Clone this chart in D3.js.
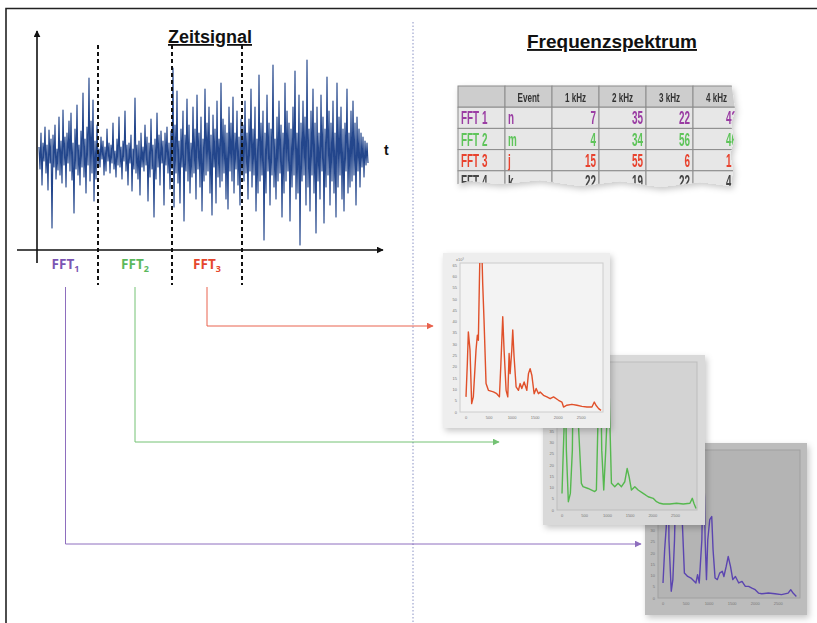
<!DOCTYPE html>
<html>
<head>
<meta charset="utf-8">
<script src="https://cdn.jsdelivr.net/npm/d3@7"></script>
<style>
body{margin:0;background:#fff}
svg{display:block}
</style>
</head>
<body>
<svg id="chart" width="817" height="623"></svg>
<script>
// time signal samples (hand read, rough)
var signal = [
8,-14,22,-30,12,-6,28,-18,10,-35,25,-8,16,-73,20,-12,30,-24,6,-15,
38,-20,14,-28,45,-10,18,-32,22,-8,34,-16,42,-25,12,-58,26,-14,50,-20,
10,-30,24,-12,62,-22,16,-38,28,-10,77,-26,34,-18,55,-46,14,-24,30,-10,
6,-12,18,-4,14,-20,8,-16,26,-6,12,-18,10,-8,32,-14,4,-22,16,-10,
38,-12,8,-24,14,-6,44,-16,10,-30,12,-8,20,-36,6,-14,57,-18,10,-24,
14,-40,22,-12,8,-16,30,-10,18,-46,12,-22,36,-14,10,-62,16,-24,42,-12,
20,-30,24,-8,14,-50,22,-10,28,-18,12,-34,24,-14,
87,-52,30,-18,64,-28,14,-48,26,-12,44,-66,20,-16,56,-26,30,-38,12,-22,
48,-18,26,-44,60,-14,22,-32,38,-56,16,-26,66,-20,32,-16,48,-38,20,-60,
40,-12,26,-48,54,-22,16,-32,72,-26,36,-18,30,-44,22,-54,48,-16,32,-26,
58,-38,22,-14,44,-30,18,-50,36,-20,
30,-26,54,-18,22,-44,36,-16,66,-32,26,-20,48,-56,16,-38,80,-26,32,-20,
44,-85,22,-38,60,-16,32,-50,26,-20,90,-32,16,-44,38,-26,54,-18,30,-62,
22,-38,72,-26,44,-16,32,-66,26,-32,48,-20,84,-44,22,-38,60,-90,32,-26,
54,-20,38,-50,95,-32,26,-56,44,-20,66,-38,32,-78,48,-26,22,-44,60,-16,
38,-68,26,-32,78,-20,44,-50,32,-26,54,-38,22,-62,72,-32,38,-20,48,-44,
26,-56,32,-16,66,-38,22,-32,44,-26,54,-20,32,-50,38,-16,26,-32,22,-12,
18,-22,14,-10,12,-8
];
// FFT windows, in sample index
var windowEdges = [59, 133, 203];
var fftNames = ["FFT", "FFT", "FFT"];
var fftSubs = ["1", "2", "3"];

// spectra [Hz, amplitude]
var spectrumRed = [[0,6.7],[29,21.5],[51,35.5],[87,27.4],[123,3.7],[159,6.7],[217,27.4],[246,34],[268,31.8],[290,57],[304,72],[341,74],[362,57],[391,40.7],[435,12.6],[486,9.6],[594,8.9],[667,8.1],[725,6.7],[754,20],[797,42.2],[826,27.4],[870,9.6],[906,6.7],[935,25.9],[957,17],[993,27.4],[1014,36.3],[1043,24.4],[1087,11.1],[1138,9.6],[1174,12.6],[1210,10.4],[1261,13.3],[1319,9.6],[1355,17],[1391,19.2],[1428,16.3],[1478,8.1],[1522,10.4],[1572,8.1],[1609,8.9],[1681,7.4],[1754,6.7],[1826,5.9],[1899,6.7],[2007,5.2],[2080,4.4],[2116,2.2],[2188,3],[2297,3.4],[2406,3],[2514,2.5],[2623,2.2],[2732,2.2],[2783,4.4],[2819,3],[2877,1.5],[2928,0.7]];
var spectrumGreen = [[0,7.4],[22,22.2],[44,35.6],[66,75],[96,26.7],[140,3.7],[184,7.4],[228,26.7],[257,75],[294,78],[353,41.5],[426,11.9],[463,10.4],[574,9.6],[721,8.2],[757,8.9],[794,41.5],[816,72],[846,70],[875,26.7],[919,8.9],[963,26.7],[993,41.5],[1022,70],[1051,41.5],[1088,11.9],[1162,10.4],[1235,11.9],[1309,10.4],[1382,12.6],[1434,18.5],[1478,14.8],[1529,8.9],[1603,10.4],[1676,8.9],[1787,7.4],[1897,5.9],[2007,5.2],[2081,3.7],[2154,3],[2228,2.7],[2375,2.7],[2522,3],[2669,2.7],[2816,3],[2868,5.2],[2904,3],[2950,0.7]];
var spectrumPurple = [[0,6.7],[36,21.5],[71,31.9],[93,72],[114,70],[129,26],[179,3],[214,8.2],[250,26],[286,60],[321,72],[371,72],[414,36.3],[464,11.1],[536,9.6],[607,8.9],[714,6.7],[750,10.4],[786,6.7],[843,26],[871,60],[900,45],[914,26],[943,8.2],[971,26],[1014,34.9],[1057,36.3],[1086,21.5],[1129,8.9],[1179,8.2],[1229,11.1],[1286,11.9],[1321,9.6],[1371,14.1],[1414,18.5],[1464,14.1],[1514,8.2],[1571,9.6],[1643,6.7],[1714,7.4],[1786,5.2],[1857,5.2],[1929,4.4],[2000,3.7],[2071,2.2],[2143,1.9],[2286,2.2],[2429,1.9],[2571,1.5],[2714,2.2],[2771,3.7],[2821,2.2],[2893,0.7]];
var freqTicks = [0, 500, 1000, 1500, 2000, 2500];
var ampTicks = [0, 5, 10, 15, 20, 25, 30, 35, 40, 45, 50, 55, 60, 65];

// table
var tableHeader = ["", "Event", "1 kHz", "2 kHz", "3 kHz", "4 kHz"];
var tableRows = [
    ["FFT 1", "n", 7, 35, 22, 42],
    ["FFT 2", "m", 4, 34, 56, 46],
    ["FFT 3", "j", 15, 55, 6, 17],
    ["FFT 4", "k", 22, 19, 22, 41]
];

var purple = "#7b55b3", green = "#5cb85c", red = "#e5472e";
var rowColors = ["#9a3da3", "#5ec45a", "#e8432e", "#444"];

var svg = d3.select("#chart");
var defs = svg.append("defs");

function arrowMarker(id, color){
    defs.append("marker")
        .attr("id", id)
        .attr("viewBox", "0 0 10 10")
        .attr("refX", 9).attr("refY", 5)
        .attr("markerWidth", 7).attr("markerHeight", 7)
        .attr("markerUnits", "userSpaceOnUse")
        .attr("orient", "auto")
        .append("path").attr("d", "M0,0L10,5L0,10z").attr("fill", color);
}
arrowMarker("arK", "#111");
arrowMarker("arP", purple);
arrowMarker("arG", green);
arrowMarker("arR", red);

var shadow = defs.append("filter").attr("id", "shadow")
    .attr("x", "-10%").attr("y", "-10%").attr("width", "130%").attr("height", "130%");
shadow.append("feDropShadow")
    .attr("dx", 2).attr("dy", 3).attr("stdDeviation", 3)
    .attr("flood-color", "#000").attr("flood-opacity", 0.22);

/*
    frame + separator
*/
svg.append("path").attr("d", "M6,623V8.5H817")
    .attr("fill", "none").attr("stroke", "#222").attr("stroke-width", 1.6);
svg.append("line")
    .attr("x1", 413).attr("x2", 413).attr("y1", 22).attr("y2", 623)
    .attr("stroke", "#8a92c4").attr("stroke-width", 1)
    .attr("stroke-dasharray", "1.5,2");

/*
    Zeitsignal
*/
function drawTimeSignal(){
    var x = d3.scaleLinear().domain([0, signal.length - 1]).range([39, 368]);
    var y = d3.scaleLinear().domain([-100, 100]).range([255, 55]);

    svg.append("text").text("Zeitsignal")
        .attr("x", 210).attr("y", 43)
        .attr("text-anchor", "middle")
        .attr("font-family", "Arial, 'Liberation Sans', sans-serif")
        .attr("font-weight", "bold").attr("font-size", 18)
        .attr("text-decoration", "underline")
        .attr("fill", "#111");

    svg.append("path")
        .datum(signal)
        .attr("d", d3.line().x(function(d, i){ return x(i); }).y(function(d){ return y(d); }))
        .attr("fill", "none")
        .attr("stroke", "#23468c")
        .attr("stroke-width", 1.15)
        .attr("stroke-linejoin", "round");

    // axes
    svg.append("line")
        .attr("x1", 37).attr("x2", 37).attr("y1", 263).attr("y2", 31)
        .attr("stroke", "#111").attr("stroke-width", 1.6)
        .attr("marker-end", "url(#arK)");
    svg.append("line")
        .attr("x1", 17).attr("x2", 383).attr("y1", 250).attr("y2", 250)
        .attr("stroke", "#111").attr("stroke-width", 1.6)
        .attr("marker-end", "url(#arK)");
    svg.append("text").text("t")
        .attr("x", 384).attr("y", 155)
        .attr("font-family", "Arial, sans-serif")
        .attr("font-weight", "bold").attr("font-size", 14)
        .attr("fill", "#111");

    svg.selectAll(".win").data(windowEdges).enter()
        .append("line")
        .attr("class", "win")
        .attr("x1", function(d){ return x(d); })
        .attr("x2", function(d){ return x(d); })
        .attr("y1", 45).attr("y2", 285)
        .attr("stroke", "#111").attr("stroke-width", 2)
        .attr("stroke-dasharray", "4,3");

    // FFT labels + connectors
    var starts = [x(0) - 6].concat(windowEdges.slice(0, 2).map(x));
    var colors = [purple, green, red];
    var markers = ["arP", "arG", "arR"];
    var targets = [[544, 641], [442, 499], [326, 433]];
    fftNames.forEach(function(name, i){
        var cx = (starts[i] + x(windowEdges[i])) / 2;
        var t = svg.append("text")
            .attr("x", cx).attr("y", 269)
            .attr("text-anchor", "middle")
            .attr("font-family", "'Open Sans', sans-serif")
            .attr("font-weight", "bold").attr("font-size", 13.5)
            .attr("fill", colors[i]);
        t.append("tspan").text(name);
        t.append("tspan").text(fftSubs[i]).attr("dy", 3).attr("font-size", 9);

        svg.append("path")
            .attr("d", "M" + cx + "," + 287 + "V" + targets[i][0] + "H" + targets[i][1])
            .attr("fill", "none")
            .attr("stroke", colors[i]).attr("stroke-width", 1)
            .attr("opacity", 0.85)
            .attr("marker-end", "url(#" + markers[i] + ")");
    });
}

/*
    Frequenzspektrum
*/
function drawTable(){
    svg.append("text").text("Frequenzspektrum")
        .attr("x", 612).attr("y", 48)
        .attr("text-anchor", "middle")
        .attr("font-family", "Arial, 'Liberation Sans', sans-serif")
        .attr("font-weight", "bold").attr("font-size", 19)
        .attr("text-decoration", "underline")
        .attr("fill", "#111");

    var col = d3.scaleBand().domain(d3.range(tableHeader.length)).range([458, 740]);
    var row = d3.scaleBand().domain(d3.range(tableRows.length + 1)).range([86, 192]);

    defs.append("clipPath").attr("id", "torn")
        .append("path")
        .attr("d", "M450,80H731L733,95L735,110L731,125L734,140L730,155L733,170L731,186" +
            "L700,182L660,187L620,181L580,186L540,180L500,184L470,181L450,186Z");

    var tg = svg.append("g").attr("filter", "url(#shadow)")
        .append("g").attr("clip-path", "url(#torn)");

    var all = [tableHeader].concat(tableRows);
    all.forEach(function(r, ri){
        r.forEach(function(v, ci){
            tg.append("rect")
                .attr("x", col(ci)).attr("y", row(ri))
                .attr("width", col.bandwidth()).attr("height", row.bandwidth())
                .attr("fill", ri == 0 ? "#cdcdcd" : "#e7e7e7")
                .attr("stroke", "#8c8c8c").attr("stroke-width", 1);
            var left = ci < 2;
            var tx = ri == 0 ? col(ci) + col.bandwidth() / 2 : (left ? col(ci) + 3 : col(ci) + col.bandwidth() - 3);
            var ty = row(ri) + row.bandwidth() / 2 + (ri == 0 ? 5 : 6.5);
            tg.append("text").text(v)
                .attr("transform", "translate(" + tx + "," + ty + ") scale(" + (ri == 0 ? 0.6 : 0.55) + ",1)")
                .attr("text-anchor", ri == 0 ? "middle" : (left ? "start" : "end"))
                .attr("font-family", "Arial, 'Liberation Sans', sans-serif")
                .attr("font-weight", "bold")
                .attr("font-size", ri == 0 ? 13.5 : 18)
                .attr("fill", ri == 0 ? "#333" : rowColors[ri - 1]);
        });
    });
}

function drawSpectrum(data, p, color){
    var g = svg.append("g");
    g.append("rect")
        .attr("x", p.x).attr("y", p.y).attr("width", p.w).attr("height", p.h)
        .attr("fill", p.bg).attr("filter", "url(#shadow)");
    g.append("rect")
        .attr("x", p.fx0).attr("y", p.fy0)
        .attr("width", p.fx1 - p.fx0).attr("height", p.fy1 - p.fy0)
        .attr("fill", p.plot).attr("stroke", p.line).attr("stroke-width", 1);

    var x = d3.scaleLinear().domain([0, 2950]).range([p.dx0, p.fx1 - 1]);
    var y = d3.scaleLinear().domain([0, 66]).range([p.fy1, p.fy0]);

    g.selectAll(".yt").data(ampTicks).enter().append("text")
        .text(function(d){ return d; })
        .attr("x", p.fx0 - 3).attr("y", function(d){ return y(d) + 1.5; })
        .attr("text-anchor", "end").attr("font-size", 4)
        .attr("font-family", "Arial, sans-serif").attr("fill", "#777");
    g.selectAll(".xt").data(freqTicks).enter().append("text")
        .text(function(d){ return d; })
        .attr("x", function(d){ return x(d); }).attr("y", p.fy1 + 7)
        .attr("text-anchor", "middle").attr("font-size", 4)
        .attr("font-family", "Arial, sans-serif").attr("fill", "#777");
    g.append("text").text("x10\u00b3")
        .attr("x", p.fx0 - 4).attr("y", p.fy0 - 2)
        .attr("font-size", 4).attr("font-family", "Arial, sans-serif").attr("fill", "#777");

    var cid = "clip" + p.x;
    defs.append("clipPath").attr("id", cid)
        .append("rect").attr("x", p.fx0).attr("y", p.fy0)
        .attr("width", p.fx1 - p.fx0).attr("height", p.fy1 - p.fy0);
    g.append("path")
        .datum(data)
        .attr("clip-path", "url(#" + cid + ")")
        .attr("d", d3.line().x(function(d){ return x(d[0]); }).y(function(d){ return y(d[1]); }))
        .attr("fill", "none").attr("stroke", color).attr("stroke-width", 1.4)
        .attr("stroke-linejoin", "round");
}

drawTimeSignal();
drawTable();
drawSpectrum(spectrumPurple, {x:645, y:443, w:162, h:172, fx0:658, fx1:800, fy0:450, fy1:598, dx0:663,
    bg:"#bcbcbc", plot:"#b4b4b4", line:"#a0a0a0"}, "#5b45b0");
drawSpectrum(spectrumGreen, {x:543, y:355, w:162, h:170, fx0:557, fx1:697, fy0:362, fy1:510, dx0:562,
    bg:"#d9d9d9", plot:"#d3d3d3", line:"#bdbdbd"}, "#55b84e");
drawSpectrum(spectrumRed, {x:443, y:253, w:167, h:175, fx0:460, fx1:603, fy0:263, fy1:412, dx0:466,
    bg:"#eeeeee", plot:"#f3f3f3", line:"#cccccc"}, "#e0502a");
</script>
</body>
</html>
